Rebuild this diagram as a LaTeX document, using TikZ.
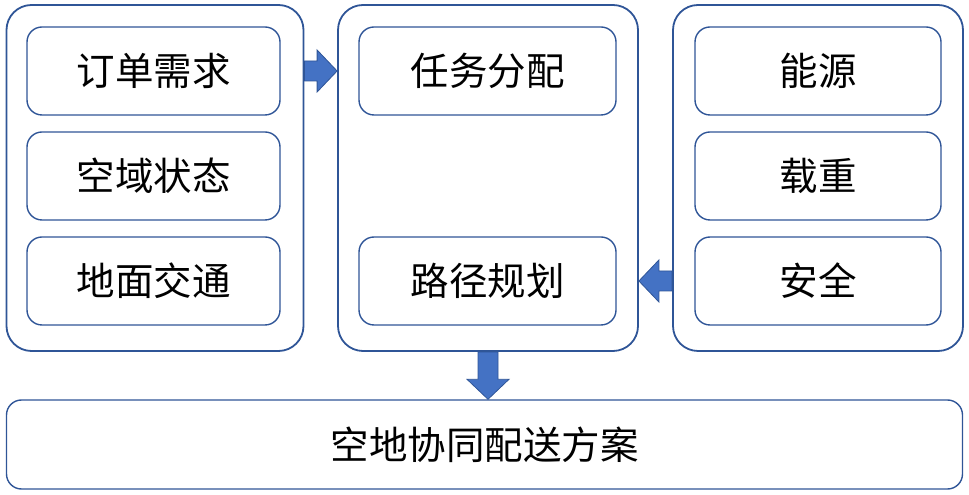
\documentclass[tikz,border=0pt]{standalone}
\usepackage{fontspec}
\usepackage{xcolor}
\usetikzlibrary{calc}
\newfontfamily\cjk{Noto Sans CJK SC}
\definecolor{lineblue}{HTML}{2F5597}
\definecolor{fillblue}{HTML}{4472C4}
\tikzset{
  outerbox/.style={draw=lineblue,line width=1.8pt,rounded corners=25pt,inner sep=0pt,minimum height=346pt},
  innerbox/.style={draw=lineblue,line width=1.4pt,rounded corners=15pt,inner sep=0pt,minimum height=88pt,
    font=\cjk\fontsize{38.5}{42}\selectfont},
  fatarrow/.style={draw=lineblue,fill=fillblue,line width=0.8pt,line join=miter}
}
\newcommand{\fatarrow}[2]{%
  \draw[fatarrow] let \p1=(#1), \p2=(#2),
    \n1={veclen(\x2-\x1,\y2-\y1)}, \n2={atan2(\y2-\y1,\x2-\x1)} in
    [shift={(\p1)},rotate=\n2]
    (0,-10) -- ({\n1-20},-10) -- ({\n1-20},-21) -- (\n1,0) -- ({\n1-20},21) -- ({\n1-20},10) -- (0,10) -- cycle;}
\begin{document}
\begin{tikzpicture}[x=1pt,y=1pt]
\useasboundingbox (0,0) rectangle (969,495);
\node[outerbox,minimum width=297pt] (lout) at (155,317) {};
\node[outerbox,minimum width=300pt] (mout) at (488,317) {};
\node[outerbox,minimum width=290pt] (rout) at (818,317) {};
\node[innerbox,minimum width=253pt] (lord) at (153.5,424) {订单需求};
\node[innerbox,minimum width=253pt] (lair) at (153.5,319) {空域状态};
\node[innerbox,minimum width=253pt] (lgnd) at (153.5,214) {地面交通};
\node[innerbox,minimum width=257pt] (mtask) at (487.5,424) {任务分配};
\node[innerbox,minimum width=257pt] (mpath) at (487.5,214) {路径规划};
\node[innerbox,minimum width=246pt] (reng) at (818,424) {能源};
\node[innerbox,minimum width=246pt] (rload) at (818,319) {载重};
\node[innerbox,minimum width=246pt] (rsafe) at (818,214) {安全};
\node[innerbox,minimum width=956pt,minimum height=89pt] (plan) at (484.5,50.5) {空地协同配送方案};
\fatarrow{lout.east |- lord}{mout.west |- lord}
\fatarrow{rout.west |- rsafe}{mout.east |- rsafe}
\fatarrow{mout.south}{mout.south |- plan.north}
\end{tikzpicture}
\end{document}
